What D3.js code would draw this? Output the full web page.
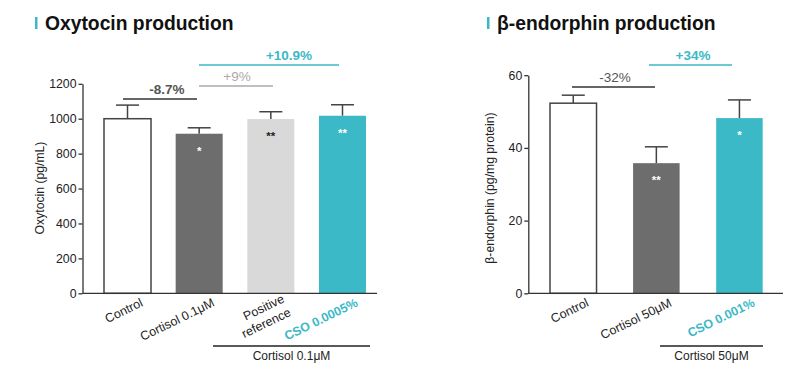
<!DOCTYPE html>
<html><head><meta charset="utf-8">
<script src="https://cdn.jsdelivr.net/npm/d3@7"></script>
<style>body{margin:0;background:#fff;font-family:"Liberation Sans",Arial,sans-serif;}</style>
</head><body><svg id="c" width="800" height="369"></svg>
<script>
const TEAL = "#3cb9c7";
// Oxytocin chart data
const oxyCategories = ["Control", "Cortisol 0.1μM", "Positive\nreference", "CSO 0.0005%"];
const oxyValues = [1000, 914, 998, 1017];
const oxyErrors = [78, 34, 42, 63];
const oxyTicks = [0, 200, 400, 600, 800, 1000, 1200];
const oxyStars = ["", "*", "**", "**"];
const oxyFills = ["#ffffff", "#6d6d6d", "#d9d9d9", TEAL];
const oxyStarColors = ["#fff", "#fff", "#222", "#fff"];
const oxyLabelColors = ["#222", "#222", "#222", TEAL];
// Beta-endorphin chart data
const endCategories = ["Control", "Cortisol 50μM", "CSO 0.001%"];
const endValues = [52.3, 35.8, 48.2];
const endErrors = [2.2, 4.5, 5.0];
const endTicks = [0, 20, 40, 60];
const endStars = ["", "**", "*"];
const endFills = ["#ffffff", "#6d6d6d", TEAL];
const endStarColors = ["#fff", "#fff", "#fff"];
const endLabelColors = ["#222", "#222", TEAL];

const svg = d3.select("#c");

function chart(o) {
  const g = svg.append("g");
  // title
  g.append("rect").attr("x", o.titleX - 10).attr("y", 17).attr("width", 2.5).attr("height", 12).attr("fill", TEAL);
  g.append("text").attr("x", o.titleX).attr("y", 29.5).attr("font-size", 19.3).attr("font-weight", "bold")
    .attr("fill", "#111").text(o.title);

  const y = d3.scaleLinear().domain([0, o.max]).range([293.3, o.yTop]);
  const x = d3.scaleBand().domain(o.cats).range(o.barRange).paddingInner(o.padInner).paddingOuter(0);

  // y axis
  const ya = g.append("g").attr("transform", `translate(${o.axisX},0)`)
    .call(d3.axisLeft(y).tickValues(o.ticks).tickSize(4).tickSizeOuter(0).tickFormat(d3.format("d")));
  ya.select(".domain").attr("stroke", "#333").attr("stroke-width", 1.3);
  ya.selectAll(".tick line").attr("stroke", "#333").attr("stroke-width", 1.3);
  ya.selectAll(".tick text").attr("font-size", 12.3).attr("fill", "#222").attr("font-family", "Liberation Sans, Arial, sans-serif").attr("x", -6);

  g.append("text").attr("transform", `translate(${o.labelX},188) rotate(-90)`).attr("text-anchor", "middle")
    .attr("font-size", 12.2).attr("fill", "#222").text(o.yLabel);

  // bars
  const bw = x.bandwidth();
  o.cats.forEach((c, i) => {
    const cx = x(c) + bw / 2;
    const top = y(o.vals[i]);
    const et = y(o.vals[i] + o.errs[i]);
    g.append("line").attr("x1", cx).attr("x2", cx).attr("y1", top).attr("y2", et).attr("stroke", "#444").attr("stroke-width", 1.5);
    g.append("line").attr("x1", cx - 11.5).attr("x2", cx + 11.5).attr("y1", et).attr("y2", et).attr("stroke", "#444").attr("stroke-width", 1.5);
    g.append("rect").attr("x", x(c)).attr("y", top).attr("width", bw).attr("height", y(0) - top)
      .attr("fill", o.fills[i]).attr("stroke", i === 0 ? "#444" : "none").attr("stroke-width", 1.5);
    if (o.stars[i]) g.append("text").attr("x", cx).attr("y", top + 21).attr("text-anchor", "middle")
      .attr("font-size", 11.5).attr("font-weight", "bold").attr("fill", o.starCols[i]).text(o.stars[i]);
    // x label
    const lines = c.split("\n");
    const t = g.append("text").attr("transform", `translate(${cx + 13},${y(0) + 5.5}) rotate(-26)`)
      .attr("text-anchor", "end").attr("font-size", 12.5).attr("fill", o.labCols[i])
      .attr("font-weight", o.labCols[i] === TEAL ? "bold" : "normal");
    lines.forEach((l, k) => t.append("tspan").attr("x", 0).attr("dy", k === 0 ? (lines.length > 1 ? "0.25em" : "0.6em") : "1.2em").text(l));
  });
  // x axis line
  g.append("line").attr("x1", o.axisX).attr("x2", o.axisEnd).attr("y1", y(0)).attr("y2", y(0)).attr("stroke", "#333").attr("stroke-width", 1.3);

  // annotations
  o.anns.forEach(a => {
    g.append("line").attr("x1", a.x1).attr("x2", a.x2).attr("y1", a.y).attr("y2", a.y).attr("stroke", a.lc).attr("stroke-width", 1.5);
    g.append("text").attr("x", (a.tx)).attr("y", a.y - 5).attr("text-anchor", "middle").attr("font-size", 13.5)
      .attr("font-weight", a.bold ? "bold" : "normal").attr("fill", a.tc).text(a.t);
  });
  // bracket
  g.append("line").attr("x1", o.br[0]).attr("x2", o.br[1]).attr("y1", 346).attr("y2", 346).attr("stroke", "#222").attr("stroke-width", 1.3);
  g.append("text").attr("x", (o.br[0] + o.br[1]) / 2).attr("y", 360).attr("text-anchor", "middle").attr("font-size", 12).attr("fill", "#222").text(o.brText);
}

chart({
  title: "Oxytocin production", titleX: 45, max: 1200, yTop: 83.8, cats: oxyCategories, vals: oxyValues, errs: oxyErrors,
  ticks: oxyTicks, stars: oxyStars, fills: oxyFills, starCols: oxyStarColors, labCols: oxyLabelColors,
  barRange: [104, 366], padInner: 0.344, axisX: 82.5, axisEnd: 377, labelX: 44, yLabel: "Oxytocin (pg/mL)",
  anns: [
    {x1: 123, x2: 197, y: 99, t: "-8.7%", tx: 167, lc: "#333", tc: "#555", bold: true},
    {x1: 199, x2: 273, y: 86, t: "+9%", tx: 237, lc: "#aaa", tc: "#aaa", bold: false},
    {x1: 199, x2: 339, y: 65, t: "+10.9%", tx: 289, lc: TEAL, tc: TEAL, bold: true}
  ],
  br: [213, 370], brText: "Cortisol 0.1μM"
});
chart({
  title: "β-endorphin production", titleX: 497, max: 60, yTop: 75.2, cats: endCategories, vals: endValues, errs: endErrors,
  ticks: endTicks, stars: endStars, fills: endFills, starCols: endStarColors, labCols: endLabelColors,
  barRange: [550, 762.7], padInner: 0.44, axisX: 528.3, axisEnd: 783, labelX: 494, yLabel: "β-endorphin (pg/mg protein)",
  anns: [
    {x1: 572, x2: 655, y: 87, t: "-32%", tx: 615, lc: "#333", tc: "#555", bold: false},
    {x1: 649, x2: 732, y: 65, t: "+34%", tx: 693, lc: TEAL, tc: TEAL, bold: true}
  ],
  br: [660, 763], brText: "Cortisol 50μM"
});
</script></body></html>
